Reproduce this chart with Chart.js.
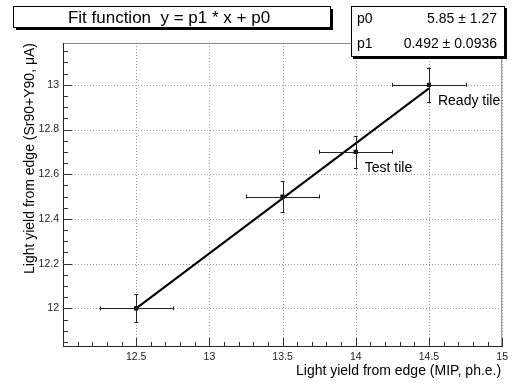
<!DOCTYPE html>
<html><head><meta charset="utf-8">
<script src="https://cdn.jsdelivr.net/npm/chart.js@4/dist/chart.umd.min.js"></script>
<style>html,body{margin:0;padding:0;background:#fff}canvas{display:block}</style>
</head><body>
<canvas id="c" width="512" height="384"></canvas>
<script>
const xValues = [12.5, 13.5, 14.0, 14.5];
const yValues = [12.0, 12.5, 12.7, 13.0];
const xErrors = [0.25, 0.25, 0.25, 0.25];
const yErrors = [0.063, 0.07, 0.071, 0.077];
const fitX = [12.5, 14.5];
const fitY = [12.0, 12.984];
const xTickValues = [12.5, 13, 13.5, 14, 14.5, 15];
const yTickValues = [12, 12.2, 12.4, 12.6, 12.8, 13];
const pointLabels = [{i: 2, text: "Test tile"}, {i: 3, text: "Ready tile"}];
const titleText = "Fit function  y = p1 * x + p0";
const statNames = ["p0", "p1"];
const statValues = ["5.85 \u00b1 1.27", "0.492 \u00b1 0.0936"];
const xTitle = "Light yield from edge (MIP, ph.e.)";
const yTitle = "Light yield from edge (Sr90+Y90, \u03bcA)";

const FONT = "'Liberation Sans', Arial, sans-serif";

const decor = {
  id: 'decor',
  beforeDatasetsDraw(chart) {
    const ctx = chart.ctx, xs = chart.scales.x, ys = chart.scales.y, a = chart.chartArea;
    ctx.save();
    ctx.strokeStyle = '#999';
    ctx.lineWidth = 1;
    ctx.setLineDash([1, 2]);
    ctx.beginPath();
    for (const v of xTickValues) {
      const px = Math.round(xs.getPixelForValue(v)) + 0.5;
      ctx.moveTo(px, a.bottom); ctx.lineTo(px, a.top);
    }
    for (const v of yTickValues) {
      const py = Math.round(ys.getPixelForValue(v)) + 0.5;
      ctx.moveTo(a.left, py); ctx.lineTo(a.right, py);
    }
    ctx.stroke();
    ctx.restore();
  },
  afterDatasetsDraw(chart) {
    const ctx = chart.ctx, xs = chart.scales.x, ys = chart.scales.y;
    ctx.save();
    ctx.strokeStyle = '#222';
    ctx.lineWidth = 1;
    for (let i = 0; i < xValues.length; i++) {
      const px = xs.getPixelForValue(xValues[i]), py = ys.getPixelForValue(yValues[i]);
      const x1 = xs.getPixelForValue(xValues[i] - xErrors[i]), x2 = xs.getPixelForValue(xValues[i] + xErrors[i]);
      const y1 = ys.getPixelForValue(yValues[i] - yErrors[i]), y2 = ys.getPixelForValue(yValues[i] + yErrors[i]);
      ctx.beginPath();
      ctx.moveTo(x1, Math.round(py)+0.5); ctx.lineTo(x2, Math.round(py)+0.5);
      ctx.moveTo(Math.round(px)+0.5, y1); ctx.lineTo(Math.round(px)+0.5, y2);
      ctx.moveTo(Math.round(x1)+0.5, py-2); ctx.lineTo(Math.round(x1)+0.5, py+2);
      ctx.moveTo(Math.round(x2)+0.5, py-2); ctx.lineTo(Math.round(x2)+0.5, py+2);
      ctx.moveTo(px-2, Math.round(y1)+0.5); ctx.lineTo(px+2, Math.round(y1)+0.5);
      ctx.moveTo(px-2, Math.round(y2)+0.5); ctx.lineTo(px+2, Math.round(y2)+0.5);
      ctx.stroke();
    }
    ctx.restore();
  },
  afterDraw(chart) {
    const ctx = chart.ctx, xs = chart.scales.x, ys = chart.scales.y, a = chart.chartArea;
    ctx.save();
    // frame
    ctx.lineWidth = 1;
    ctx.strokeStyle = '#888';
    ctx.beginPath();
    ctx.moveTo(a.left, a.top + 0.5); ctx.lineTo(a.right, a.top + 0.5);
    ctx.moveTo(a.right - 0.5, a.top); ctx.lineTo(a.right - 0.5, a.bottom);
    ctx.stroke();
    ctx.strokeStyle = '#222';
    ctx.beginPath();
    ctx.moveTo(a.left + 0.5, a.top); ctx.lineTo(a.left + 0.5, a.bottom);
    ctx.moveTo(a.left, a.bottom - 0.5); ctx.lineTo(a.right, a.bottom - 0.5);
    ctx.stroke();
    // ticks
    ctx.strokeStyle = '#333';
    ctx.beginPath();
    for (let k = 0; k <= 30; k++) {
      const v = xs.min + k * 0.1;
      if (v > xs.max + 1e-6) break;
      const px = Math.round(xs.getPixelForValue(v)) + 0.5;
      const major = Math.abs(v * 2 - Math.round(v * 2)) < 1e-6;
      ctx.moveTo(px, a.bottom); ctx.lineTo(px, a.bottom - (major ? 9 : 5));
    }
    for (let k = 0; k <= 40; k++) {
      const v = 11.85 + k * 0.05;
      if (v > ys.max) break;
      if (v < ys.min) continue;
      const py = Math.round(ys.getPixelForValue(v)) + 0.5;
      const major = Math.abs(v * 5 - Math.round(v * 5)) < 1e-6;
      ctx.moveTo(a.left, py); ctx.lineTo(a.left + (major ? 9 : 5), py);
    }
    ctx.stroke();
    // point labels
    ctx.fillStyle = '#000';
    ctx.font = '14px ' + FONT;
    ctx.textBaseline = 'middle';
    ctx.textAlign = 'left';
    for (const pl of pointLabels) {
      const px = xs.getPixelForValue(xValues[pl.i]), py = ys.getPixelForValue(yValues[pl.i]);
      ctx.fillText(pl.text, px + 9, py + 16);
    }
    // axis titles
    ctx.font = '14px ' + FONT;
    ctx.textAlign = 'right';
    ctx.textBaseline = 'middle';
    ctx.fillText(xTitle, a.right - 1, 371);
    ctx.save();
    ctx.translate(30, a.top);
    ctx.rotate(-Math.PI / 2);
    ctx.textAlign = 'right';
    ctx.fillText(yTitle, 0, 0);
    ctx.restore();
    // title box
    ctx.fillStyle = '#000';
    ctx.fillRect(16, 9, 317, 21);
    ctx.fillStyle = '#fff';
    ctx.fillRect(14, 7, 317, 21);
    ctx.strokeStyle = '#000';
    ctx.strokeRect(13.5, 6.5, 317, 21);
    ctx.fillStyle = '#000';
    ctx.font = '17px ' + FONT;
    ctx.textAlign = 'center';
    ctx.textBaseline = 'middle';
    ctx.fillText(titleText, 169, 18);
    // stats box
    ctx.fillStyle = '#000';
    ctx.fillRect(353, 8, 154, 51);
    ctx.fillStyle = '#fff';
    ctx.fillRect(351, 6, 153, 50);
    ctx.strokeStyle = '#000';
    ctx.strokeRect(351.5, 6.5, 153, 50);
    ctx.fillStyle = '#000';
    ctx.font = '14px ' + FONT;
    for (let r = 0; r < statNames.length; r++) {
      const yy = 19 + r * 25;
      ctx.textAlign = 'left';
      ctx.fillText(statNames[r], 357, yy);
      ctx.textAlign = 'right';
      ctx.fillText(statValues[r], 497, yy);
    }
    ctx.restore();
  }
};

new Chart(document.getElementById('c'), {
  type: 'scatter',
  data: {
    datasets: [
      {
        type: 'line',
        data: fitX.map((x, i) => ({x, y: fitY[i]})),
        borderColor: '#000',
        borderWidth: 2,
        pointRadius: 0,
        fill: false,
        order: 2
      },
      {
        data: xValues.map((x, i) => ({x, y: yValues[i]})),
        backgroundColor: '#000',
        borderColor: '#000',
        pointStyle: 'rect',
        pointRadius: 3,
        borderWidth: 0,
        order: 1
      }
    ]
  },
  options: {
    responsive: false,
    animation: false,
    devicePixelRatio: 1,
    layout: {padding: {top: 43, right: 8, left: 0, bottom: 0}},
    plugins: {legend: {display: false}, tooltip: {enabled: false}, title: {display: false}},
    scales: {
      x: {
        type: 'linear', min: 12.0, max: 15.0,
        afterFit(s) { s.height = 37; },
        afterBuildTicks(s) { s.ticks = xTickValues.map(v => ({value: v})); },
        ticks: {color: '#222', font: {family: FONT, size: 10.5}, padding: 4, maxRotation: 0,
          callback: v => String(v)},
        grid: {display: false, drawTicks: false},
        border: {display: false}
      },
      y: {
        type: 'linear', min: 11.827, max: 13.187,
        afterFit(s) { s.width = 63; },
        afterBuildTicks(s) { s.ticks = yTickValues.map(v => ({value: v})); },
        ticks: {color: '#222', font: {family: FONT, size: 10.5}, padding: 4,
          callback: v => String(Math.round(v * 10) / 10)},
        grid: {display: false, drawTicks: false},
        border: {display: false}
      }
    }
  },
  plugins: [decor]
});
</script>
</body></html>
